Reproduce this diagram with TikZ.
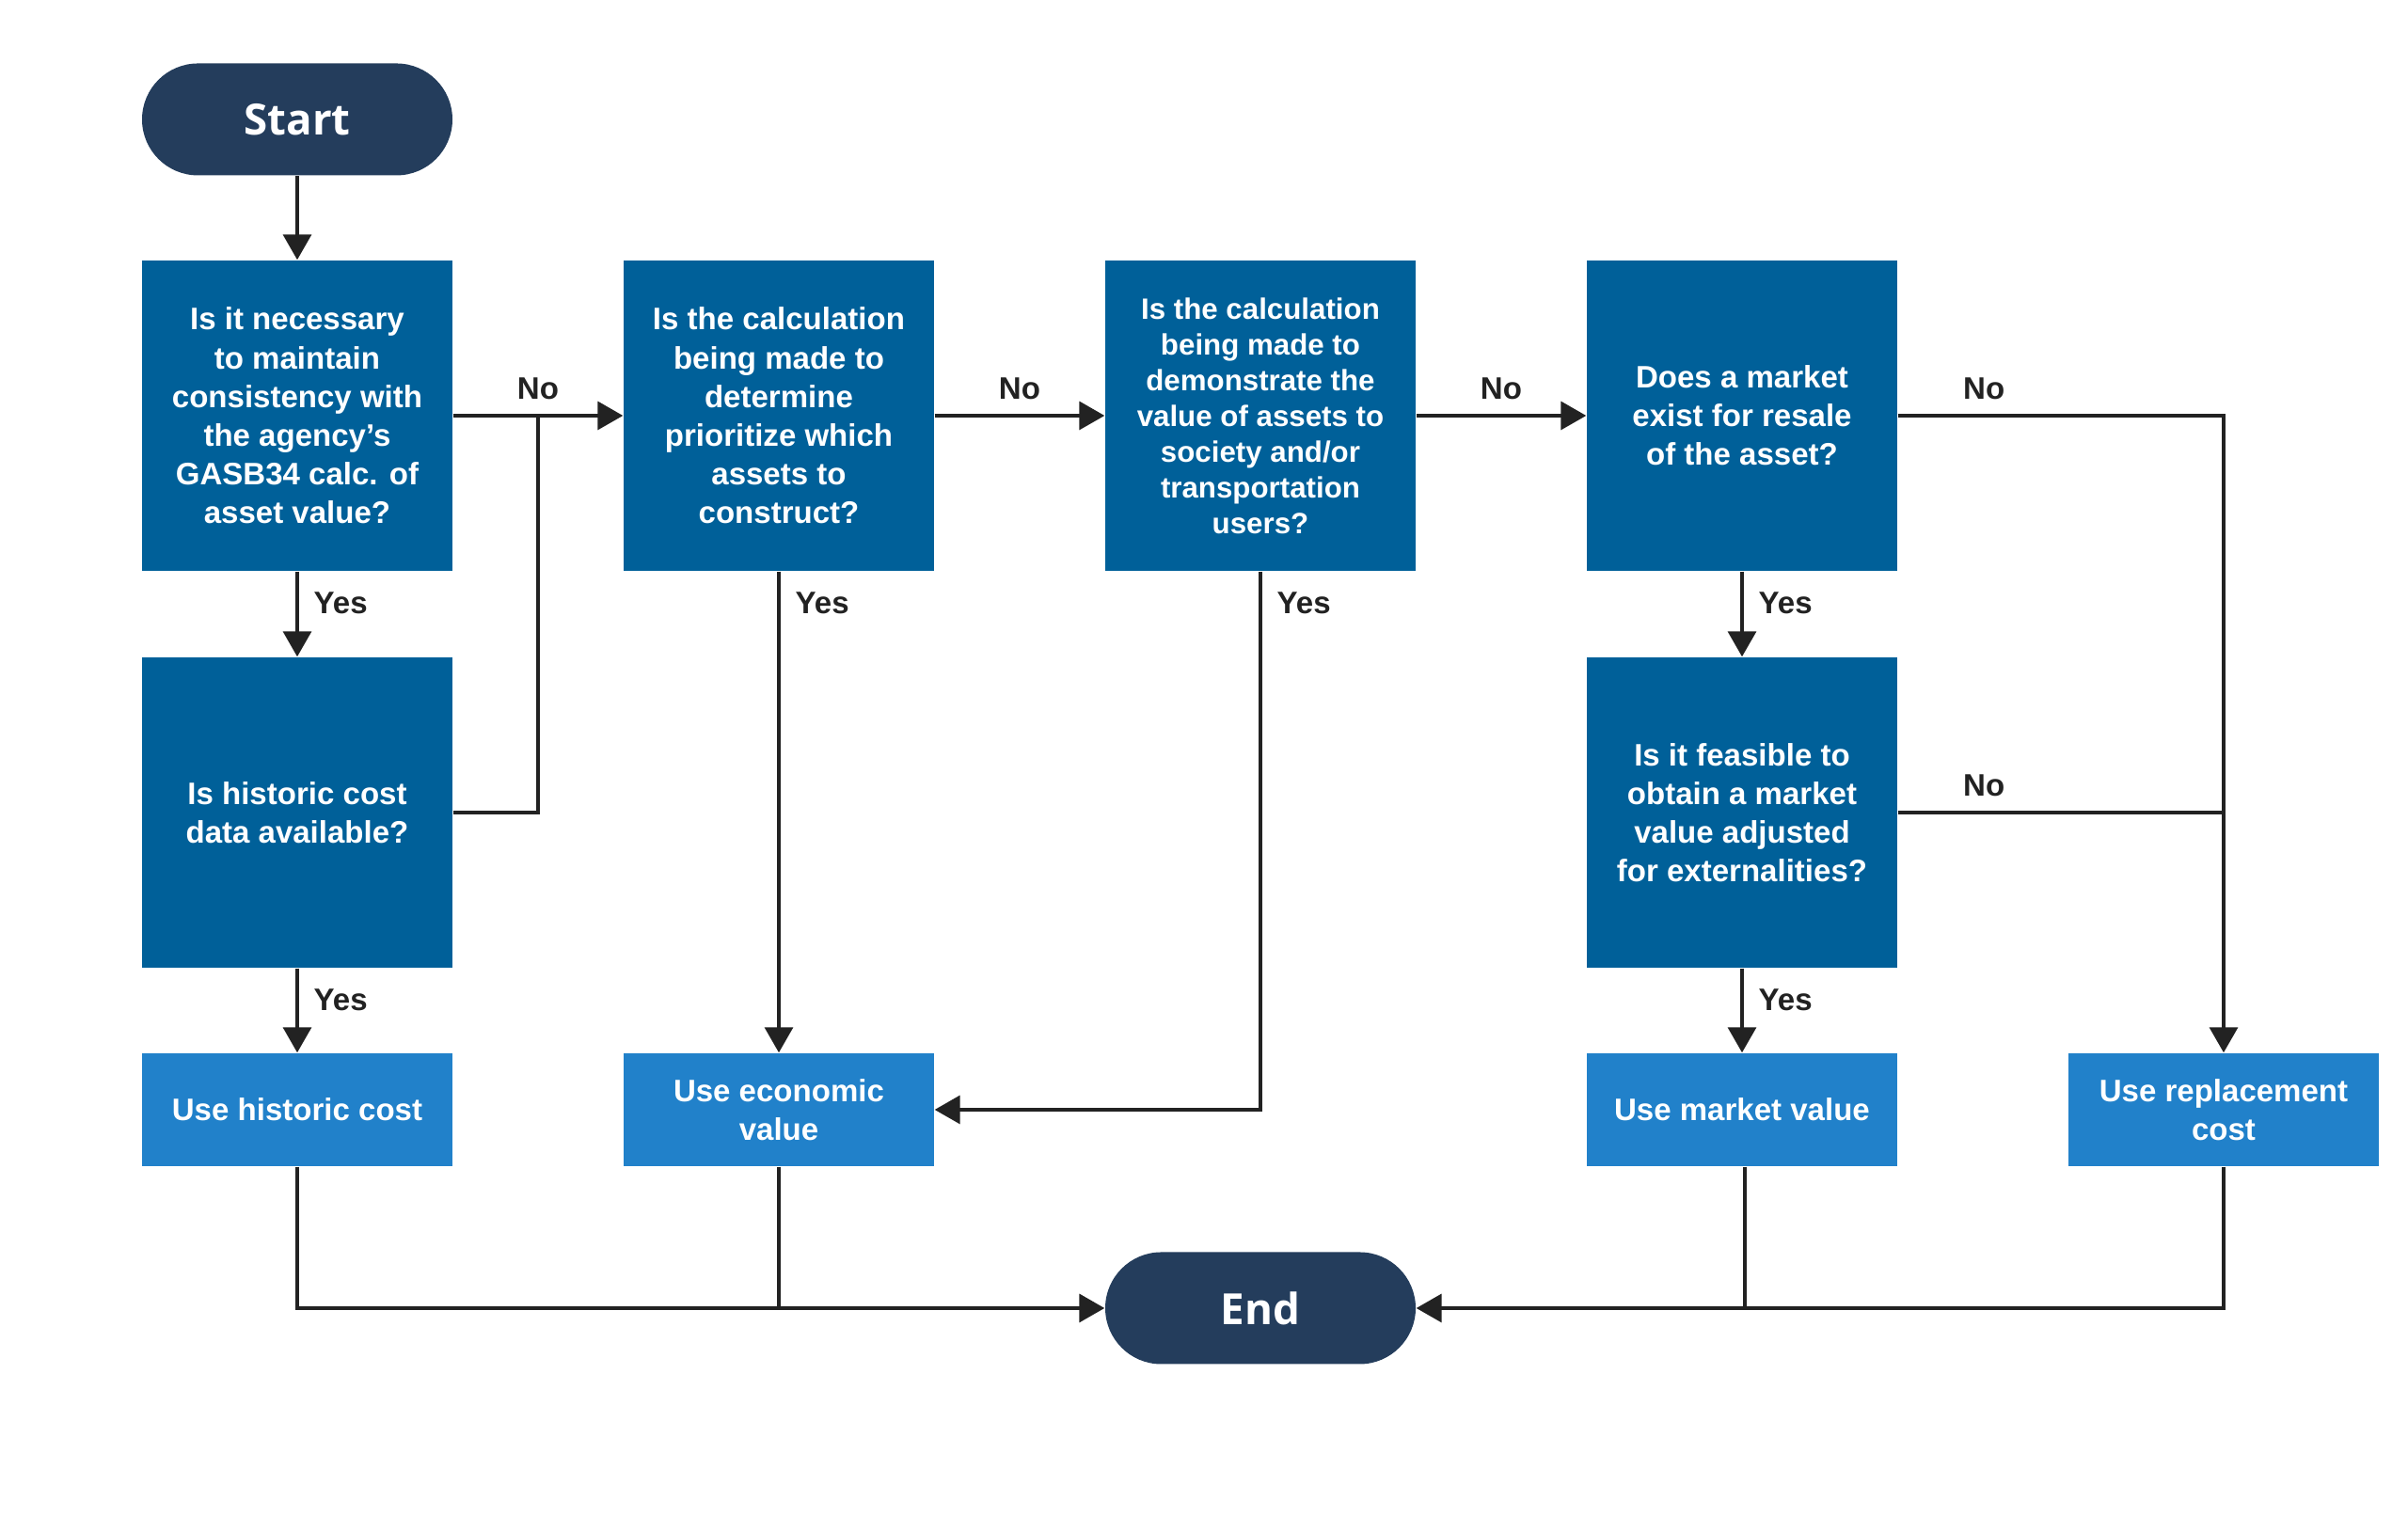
\documentclass[tikz,border=0pt]{standalone}
\usepackage{fontspec}
\usepackage{xcolor}
\usetikzlibrary{calc,positioning,arrows.meta}
\newfontfamily\flowfont{Liberation Sans}
\newfontfamily\termfont{Open Sans}
\definecolor{termblue}{HTML}{243D5C}
\definecolor{askblue}{HTML}{006099}
\definecolor{useblue}{HTML}{2181CA}
\definecolor{linegray}{HTML}{222222}
\tikzset{
     term node/.style={fill=termblue, text=white, rounded corners=0.595cm,
        minimum width=3.30cm, minimum height=1.19cm,
        font=\termfont\bfseries\fontsize{13}{15}\selectfont},
      ask node/.style={fill=askblue, text=white, minimum width=3.30cm,
        minimum height=3.30cm, align=center, inner sep=0pt,
        font=\flowfont\bfseries\fontsize{9.4}{11.7}\selectfont},
      use node/.style={fill=useblue, text=white, minimum width=3.30cm,
        minimum height=1.20cm, align=center, inner sep=0pt,
        font=\flowfont\bfseries\fontsize{9.4}{11.7}\selectfont},
      answer/.style={text=linegray, inner sep=0pt,
        font=\flowfont\bfseries\fontsize{9.4}{11.7}\selectfont},
      flowedge/.style={draw=linegray, line width=1pt, -{Triangle[length=0.27cm,width=0.30cm]}},
      joinedge/.style={draw=linegray, line width=1pt},
    }
\begin{document}
\begin{tikzpicture}[node distance=5.12cm, on grid]
            \useasboundingbox[fill=white] (0,0) rectangle (25.6,16.12);

            % first column
            \node [term node] (start) at (3.16,14.85) {Start};
            \node [ask node] (consist) [below=3.15cm of start] {Is it necessary\\to maintain\\consistency with\\the agency’s\\GASB34 calc. of\\asset value?};
            \node [ask node] (historic) [below=4.22cm of consist] {Is historic cost\\data available?};
            \node [use node] (histuse) [below=3.16cm of historic] {Use historic cost};

            % top row of questions
            \node [ask node] (priority) [right=of consist] {Is the calculation\\being made to\\determine\\prioritize which\\assets to\\construct?};
            \node [ask node, font=\flowfont\bfseries\fontsize{8.9}{10.8}\selectfont] (demo) [right=of priority] {Is the calculation\\being made to\\demonstrate the\\value of assets to\\society and/or\\transportation\\users?};
            \node [ask node] (market) [right=of demo] {Does a market\\exist for resale\\of the asset?};
            \node [ask node] (feasible) [below=4.22cm of market] {Is it feasible to\\obtain a market\\value adjusted\\for externalities?};

            % outcomes
            \node [use node] (econ) [below=7.38cm of priority] {Use economic\\value};
            \node [use node] (mktuse) [below=3.16cm of feasible] {Use market value};
            \node [use node] (repl) [right=of mktuse] {Use replacement\\cost};
            \node [term node] (end) [below=9.49cm of demo] {End};

            \coordinate (nojoin) at ($(consist.east)!0.5!(priority.west)$);

            % yes branches
            \draw [flowedge] (start) -- (consist);
            \draw [flowedge] (consist) -- (historic);
            \draw [flowedge] (historic) -- (histuse);
            \draw [flowedge] (priority) -- (econ);
            \draw [flowedge] (demo.south) |- (econ.east);
            \draw [flowedge] (market) -- (feasible);
            \draw [flowedge] (feasible) -- (mktuse);

            % no branches
            \draw [flowedge] (consist) -- (priority);
            \draw [joinedge] (historic.east) -| (nojoin);
            \draw [flowedge] (priority) -- (demo);
            \draw [flowedge] (demo) -- (market);
            \draw [flowedge] (market.east) -| (repl.north);
            \draw [joinedge] (feasible.east) -- (feasible.east -| repl.north);

            % to the end
            \draw [flowedge] (histuse.south) |- (end.west);
            \draw [joinedge] (econ.south) -- (econ.south |- end.west);
            \draw [flowedge] (repl.south) |- (end.east);
            \draw [joinedge] ([xshift=0.03cm]mktuse.south) -- ([xshift=0.03cm]mktuse.south |- end.east);

            % labels
            \foreach \q in {consist,historic,priority,demo,market,feasible}
                \node [answer, anchor=west] (yes-\q) at ([shift={(0.17,-0.34)}]\q.south) {Yes};
            \node [answer, anchor=south] (no-consist) at ([yshift=0.16cm]nojoin) {No};
            \node [answer, anchor=south] (no-priority) at ([yshift=0.16cm]$(priority.east)!0.5!(demo.west)$) {No};
            \node [answer, anchor=south] (no-demo) at ([yshift=0.16cm]$(demo.east)!0.5!(market.west)$) {No};
            \node [answer, anchor=south] (no-market) at ([shift={(0.915,0.16)}]market.east) {No};
            \node [answer, anchor=south] (no-feasible) at ([shift={(0.915,0.16)}]feasible.east) {No};
      \end{tikzpicture}
\end{document}
